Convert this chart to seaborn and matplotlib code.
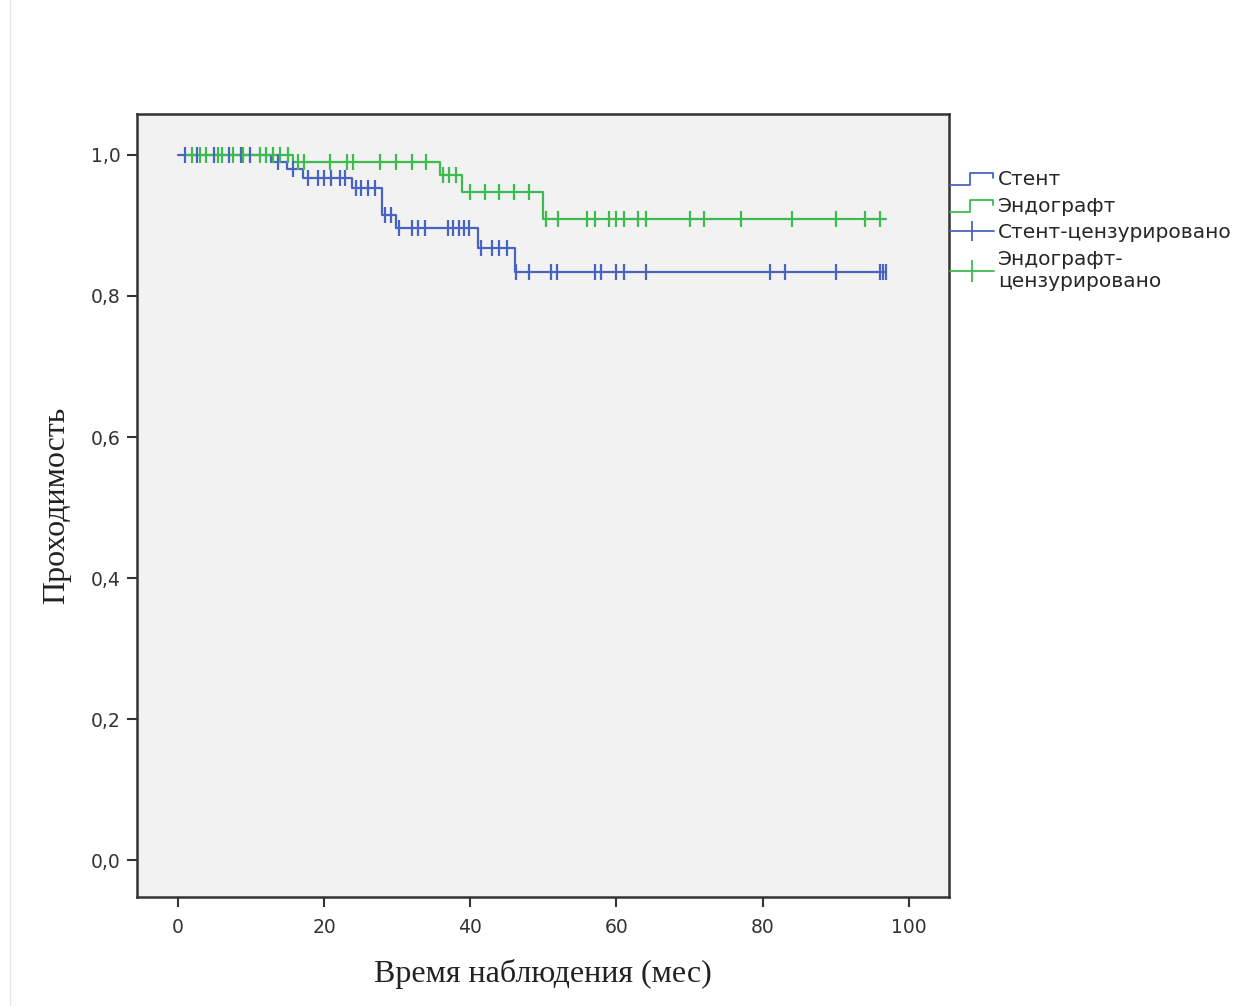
import numpy as np
import pandas as pd
import seaborn as sns
import matplotlib.pyplot as plt
from matplotlib.lines import Line2D
from matplotlib.legend_handler import HandlerBase

# step curves (time in months, survival level)
stent_t = [0.0, 12.8, 14.9, 17.1, 23.8, 27.9, 29.9, 41.0, 46.1, 96.9]
stent_s = [1.0, 0.9905, 0.980, 0.967, 0.953, 0.915, 0.896, 0.868, 0.834, 0.834]
endo_t = [1.0, 15.8, 35.8, 38.9, 50.0, 96.9]
endo_s = [1.0, 0.990, 0.972, 0.948, 0.909, 0.909]

# censored observations
stent_cens = [1.0, 2.6, 5.0, 7.0, 8.7, 9.8, 13.7, 15.7,
              17.8, 19.2, 20.0, 21.0, 22.2, 22.8,
              24.3, 25.0, 26.0, 27.0, 28.3, 29.1,
              30.2, 32.0, 32.9, 33.8, 37.0, 37.7, 38.4, 39.1, 39.8,
              41.5, 43.0, 44.0, 45.0,
              46.3, 48.0, 51.0, 51.9, 57.0, 57.9, 60.0, 61.0, 64.0,
              81.0, 83.0, 90.0, 96.0, 96.5, 96.9]
endo_cens = [1.9, 3.0, 3.9, 5.5, 6.0, 7.5, 8.9, 11.2, 12.1, 13.0, 14.0, 15.0,
             16.5, 17.2, 20.8, 23.2, 24.0, 27.6, 29.9, 32.0, 33.9,
             36.3, 37.1, 38.1,
             39.9, 42.0, 44.0, 46.0, 48.0,
             50.3, 52.0, 56.0, 57.0, 59.0, 60.0, 61.0, 63.0, 64.0,
             70.0, 72.0, 77.0, 84.0, 90.0, 94.0, 96.0]

labels = ["Стент", "Эндографт", "Стент-цензурировано", "Эндографт-\nцензурировано"]
xticks = [0, 20, 40, 60, 80, 100]
yticks = [0.0, 0.2, 0.4, 0.6, 0.8, 1.0]

blue = "#4864c0"
green = "#3dbb4f"


def level_at(ts, ss, x):
    i = np.searchsorted(ts, x, side="right") - 1
    return np.asarray(ss)[np.clip(i, 0, len(ss) - 1)]


sns.set_style("white")
plt.rcParams['font.family'] = ['DejaVu Sans']

fig = plt.figure(figsize=(12.53, 10.06), dpi=100)
ax = fig.add_axes([0.1093, 0.1083, 0.6481, 0.7784])
ax.set_facecolor("#f2f2f2")

curves = pd.concat([
    pd.DataFrame({"t": stent_t, "s": stent_s, "g": "Стент"}),
    pd.DataFrame({"t": endo_t, "s": endo_s, "g": "Эндографт"}),
])
sns.lineplot(data=curves, x="t", y="s", hue="g", palette=[blue, green],
             drawstyle="steps-post", estimator=None, sort=False,
             linewidth=1.6, legend=False, ax=ax)

for cens, ts, ss, c in [(stent_cens, stent_t, stent_s, blue),
                        (endo_cens, endo_t, endo_s, green)]:
    ax.plot(cens, level_at(ts, ss, cens), linestyle="none", marker="|",
            markersize=11, markeredgewidth=1.6, color=c)

ax.set_xlim(-5.6, 105.5)
ax.set_ylim(-0.052, 1.058)
ax.set_xticks(xticks)
ax.set_yticks(yticks)
ax.set_yticklabels([f"{v:.1f}".replace(".", ",") for v in yticks])
ax.tick_params(axis="both", direction="out", length=7, width=1.5,
               color="#333333", labelsize=13.5, labelcolor="#333333",
               left=True, bottom=True, pad=5)
ax.tick_params(axis="x", pad=8)
for sp in ax.spines.values():
    sp.set_color("#333333")
    sp.set_linewidth(1.8)

ax.set_xlabel("Время наблюдения (мес)", family="Liberation Serif",
              fontsize=23, color="#222222", labelpad=16)
ax.set_ylabel("Проходимость", family="Liberation Serif",
              fontsize=23, color="#222222", labelpad=14)


class StepHandler(HandlerBase):
    def create_artists(self, legend, orig, xd, yd, w, h, fontsize, trans):
        xs = [xd, xd + w * 0.45, xd + w * 0.45, xd + w * 0.97, xd + w * 0.97]
        ys = [yd, yd, yd + h * 0.85, yd + h * 0.85, yd + h * 0.5]
        ln = Line2D(xs, ys, color=orig.get_color(), linewidth=1.3, transform=trans)
        return [ln]


h_stent = Line2D([], [], color=blue)
h_endo = Line2D([], [], color=green)
h_sc = Line2D([], [], color=blue, marker="|", markersize=14, linewidth=1.3, markeredgewidth=1.3)
h_ec = Line2D([], [], color=green, marker="|", markersize=16, linewidth=1.3, markeredgewidth=1.3)
fig.legend([h_stent, h_endo, h_sc, h_ec], labels,
           handler_map={h_stent: StepHandler(), h_endo: StepHandler()},
           loc="upper left", bbox_to_anchor=(0.758, 1 - 170 / 1006),
           frameon=False, fontsize=14.5, handlelength=2.2, handletextpad=0.2,
           labelspacing=0.38, borderpad=0, borderaxespad=0)

fig.add_artist(Line2D([0.008, 0.008], [0, 1], color="#e8e8e8", linewidth=1))

fig.savefig("out.png", dpi=100, facecolor="white")
